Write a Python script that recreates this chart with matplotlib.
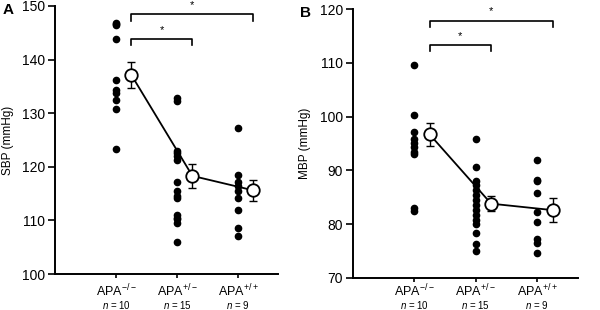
import matplotlib
matplotlib.use('Agg')
import matplotlib.pyplot as plt
from matplotlib.transforms import blended_transform_factory

plt.rcParams['font.family'] = ['Liberation Sans', 'DejaVu Sans']
plt.rcParams['mathtext.fontset'] = 'custom'
plt.rcParams['mathtext.rm'] = 'Liberation Sans'
plt.rcParams['mathtext.it'] = 'Liberation Sans:italic'

groups = ['APA$^{-/-}$', 'APA$^{+/-}$', 'APA$^{+/+}$']
n_labels = ['10', '15', '9']

# panel A: systolic BP
sbp_ko = [146.9, 146.4, 143.8, 136.1, 134.4, 133.8, 132.4, 130.7, 123.3, 146.6]
sbp_het = [132.9, 132.2, 123.0, 122.5, 122.0, 121.2, 117.1, 115.5, 114.6, 114.1,
           111.1, 110.5, 110.2, 109.5, 105.9]
sbp_wt = [127.2, 118.4, 117.1, 116.4, 115.5, 114.2, 111.9, 108.6, 107.0]
sbp_mean = [137.1, 118.3, 115.6]
sbp_sem = [2.4, 2.2, 2.0]

# panel B: mean BP
mbp_ko = [109.7, 100.4, 97.2, 95.8, 95.1, 94.3, 93.4, 93.0, 82.9, 82.5]
mbp_het = [95.9, 90.7, 88.0, 87.2, 86.3, 85.4, 84.4, 83.5, 82.6, 81.7, 80.7,
           80.0, 78.4, 76.3, 74.9]
mbp_wt = [91.9, 88.3, 88.0, 85.7, 82.2, 80.4, 77.3, 76.4, 74.6]
mbp_mean = [96.7, 83.8, 82.6]
mbp_sem = [2.1, 1.4, 2.2]

# significance brackets: (from group, to group, level)
sbp_brackets = [(0, 1, 143.9), (0, 2, 148.5)]
mbp_brackets = [(0, 1, 113.4), (0, 2, 117.9)]


def panel(ax, cols, means, sems, brackets, ylim, ylabel, letter):
    off = 0.25
    for i, vals in enumerate(cols):
        ax.plot([i + 1] * len(vals), vals, 'o', color='black', ms=4.5,
                mec='black', zorder=3)
    xm = [i + 1 + off for i in range(3)]
    ax.errorbar(xm, means, yerr=sems, fmt='none', ecolor='black',
                elinewidth=1.0, capsize=3, capthick=1.0, zorder=2)
    ax.plot(xm, means, '-', color='black', lw=1.3, zorder=2)
    ax.plot(xm, means, 'o', mfc='white', mec='black', mew=1.3, ms=9, zorder=4)

    span = ylim[1] - ylim[0]
    for a, b, lev in brackets:
        x0, x1 = a + 1 + off, b + 1 + off
        d = span * 0.025
        ax.plot([x0, x0, x1, x1], [lev - d, lev, lev, lev - d], '-',
                color='black', lw=1.2, clip_on=False)
        ax.text((x0 + x1) / 2, lev + span * 0.015, '*', ha='center',
                va='bottom', fontsize=8)

    ax.set_xlim(0, 3.66)
    ax.set_ylim(*ylim)
    ax.set_yticks(range(ylim[0], ylim[1] + 1, 10))
    ax.set_xticks([1, 2, 3])
    ax.set_xticklabels([])
    ax.tick_params(axis='both', direction='out', width=1.2)
    ax.tick_params(axis='y', length=5, labelsize=10, pad=2)
    ax.tick_params(axis='x', length=3)
    trans = blended_transform_factory(ax.transData, fig.transFigure)
    for i, (g, n) in enumerate(zip(groups, n_labels)):
        ax.text(i + 1, 0.062, g, ha='center', va='center', fontsize=9,
                transform=trans)
        ax.text(i + 1, 0.017, '$n$ = ' + n, ha='center', va='center',
                fontsize=7, transform=trans)
    for s in ['top', 'right']:
        ax.spines[s].set_visible(False)
    for s in ['left', 'bottom']:
        ax.spines[s].set_linewidth(1.4)
    ax.set_ylabel(ylabel, fontsize=8.5, labelpad=6)
    ax.text(-0.235, 0.985, letter, transform=ax.transAxes, fontsize=11,
            fontweight='bold', ha='left', va='center')


fig = plt.figure(figsize=(6, 3.1), dpi=100)
ax1 = fig.add_axes([0.092, 0.116, 0.372, 0.865])
ax2 = fig.add_axes([0.588, 0.104, 0.375, 0.866])

panel(ax1, [sbp_ko, sbp_het, sbp_wt], sbp_mean, sbp_sem, sbp_brackets,
      (100, 150), 'SBP (mmHg)', 'A')
panel(ax2, [mbp_ko, mbp_het, mbp_wt], mbp_mean, mbp_sem, mbp_brackets,
      (70, 120), 'MBP (mmHg)', 'B')

fig.savefig('out.png', dpi=100)
